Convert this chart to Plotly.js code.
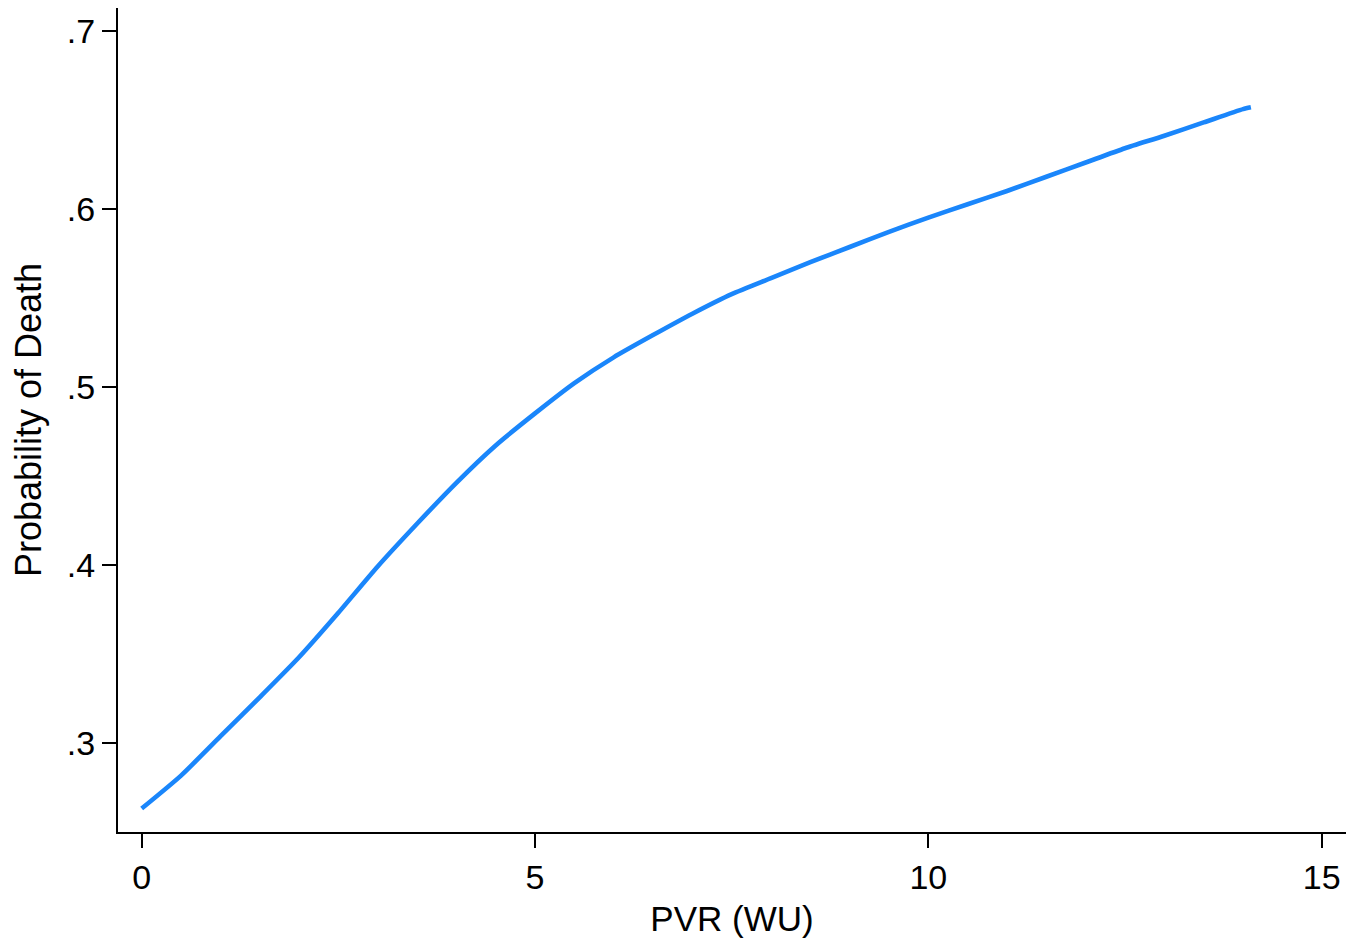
<!DOCTYPE html>
<html>
<head>
<meta charset="utf-8">
<script src="https://cdn.plot.ly/plotly-3.0.1.min.js"></script>
<style>
  html, body { margin: 0; padding: 0; background: #fff; }
  #chart { width: 1350px; height: 943px; }
</style>
</head>
<body>
<div id="chart"></div>
<script>
// Data
const pvr = [0, 0.5, 1, 1.5, 2, 2.5, 3, 3.5, 4, 4.5, 5, 5.5, 6, 6.5, 7, 7.5, 8, 8.5, 9, 9.5, 10, 10.5, 11, 11.5, 12, 12.5, 13, 13.5, 14, 14.1];
const probDeath = [0.263, 0.2815, 0.3035, 0.3255, 0.348, 0.373, 0.399, 0.423, 0.446, 0.467, 0.485, 0.502, 0.5165, 0.529, 0.541, 0.552, 0.561, 0.570, 0.5785, 0.587, 0.595, 0.6025, 0.610, 0.618, 0.626, 0.634, 0.641, 0.6485, 0.656, 0.657];

const xTickVals = [0, 5, 10, 15];
const xTickText = ['0', '5', '10', '15'];
const yTickVals = [0.3, 0.4, 0.5, 0.6, 0.7];
const yTickText = ['.3', '.4', '.5', '.6', '.7'];

const xTitle = 'PVR (WU)';
const yTitle = 'Probability of Death';

const font = 'Liberation Sans, Arial, sans-serif';

const trace = {
  x: pvr,
  y: probDeath,
  type: 'scatter',
  mode: 'lines',
  line: { color: '#1a86fb', width: 4.6, shape: 'spline', smoothing: 0.6 },
  hoverinfo: 'x+y'
};

const layout = {
  width: 1350,
  height: 943,
  margin: { l: 118, r: 4, t: 8, b: 111 },
  paper_bgcolor: '#ffffff',
  plot_bgcolor: '#ffffff',
  showlegend: false,
  font: { family: font, color: '#000000', size: 34 },
  xaxis: {
    range: [-0.301, 15.309],
    tickvals: xTickVals,
    ticktext: xTickText,
    ticks: 'outside',
    ticklen: 14,
    tickwidth: 2,
    tickcolor: '#000000',
    showline: true,
    linecolor: '#000000',
    linewidth: 2,
    showgrid: false,
    zeroline: false,
    automargin: false,
    tickfont: { family: font, size: 34, color: '#000000' },
    title: { text: xTitle, font: { family: font, size: 35, color: '#000000' }, standoff: 12 }
  },
  yaxis: {
    range: [0.2498, 0.7128],
    tickvals: yTickVals,
    ticktext: yTickText,
    ticks: 'outside',
    ticklen: 14,
    tickwidth: 2,
    tickcolor: '#000000',
    showline: true,
    linecolor: '#000000',
    linewidth: 2,
    showgrid: false,
    zeroline: false,
    automargin: false,
    tickfont: { family: font, size: 34, color: '#000000' },
    title: { text: yTitle, font: { family: font, size: 36, color: '#000000' }, standoff: 14 }
  }
};

Plotly.newPlot('chart', [trace], layout, { displayModeBar: false, staticPlot: true });
</script>
</body>
</html>
